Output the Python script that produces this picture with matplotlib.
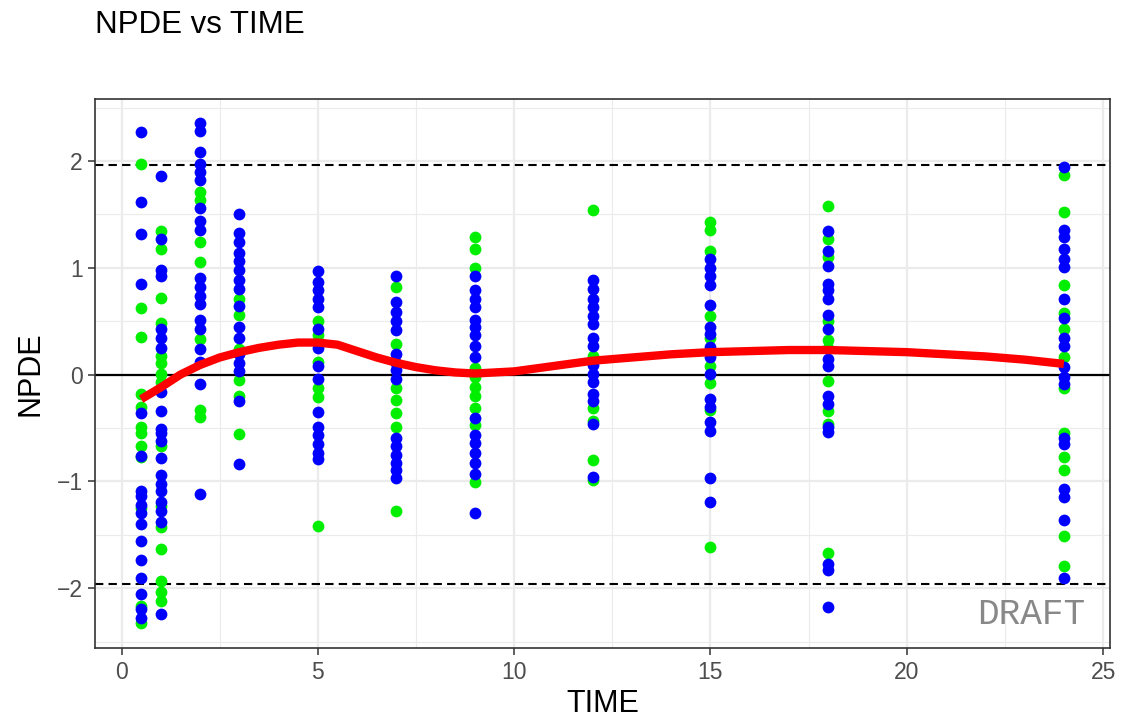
import numpy as np
import matplotlib
matplotlib.use("Agg")
import matplotlib.pyplot as plt

plt.rcParams['font.family'] = ['Liberation Sans', 'DejaVu Sans']

# NPDE values per sampling time, green group and blue group
times = [0.5, 1, 2, 3, 5, 7, 9, 12, 15, 18, 24]

green = {
    0.5: [1.97, 0.62, 0.35, -0.18, -0.30, -0.49, -0.55, -0.67, -0.77, -1.25, -2.17, -2.33],
    1: [1.34, 1.18, 0.72, 0.48, 0.17, 0.11, 0.01, -0.07, -0.67, -1.23, -1.43, -1.63, -1.93, -2.04, -2.12],
    2: [1.71, 1.63, 1.24, 1.05, 0.33, -0.33, -0.40],
    3: [0.71, 0.56, 0.24, -0.05, -0.20, -0.56],
    5: [0.50, 0.37, 0.12, -0.13, -0.21, -1.42],
    7: [0.82, 0.29, -0.13, -0.24, -0.36, -0.49, -1.28],
    9: [1.29, 1.18, 1.00, 0.06, -0.02, -0.12, -0.20, -0.31, -0.47, -1.01],
    12: [1.54, 0.17, -0.31, -0.43, -0.80, -0.99],
    15: [1.43, 1.35, 1.16, 0.55, 0.34, 0.08, -0.08, -0.33, -1.61],
    18: [1.58, 1.27, 1.10, 0.50, 0.32, 0.25, -0.06, -0.34, -0.46, -1.67],
    24: [1.87, 1.52, 0.84, 0.58, 0.43, 0.16, -0.13, -0.55, -0.77, -0.89, -1.51, -1.79],
}

blue = {
    0.5: [2.27, 1.62, 1.32, 0.85, -0.36, -0.76, -1.09, -1.14, -1.22, -1.30, -1.40, -1.56, -1.74, -1.90, -2.05, -2.19, -2.28],
    1: [1.86, 1.27, 0.98, 0.92, 0.43, 0.34, 0.25, -0.16, -0.34, -0.51, -0.55, -0.62, -0.78, -0.94, -1.02, -1.09, -1.19, -1.28, -1.38, -2.24],
    2: [2.36, 2.28, 2.08, 1.97, 1.90, 1.82, 1.56, 1.44, 1.35, 0.90, 0.82, 0.74, 0.66, 0.51, 0.43, 0.24, 0.12, -0.09, -1.12],
    3: [1.50, 1.33, 1.24, 1.14, 1.06, 0.98, 0.89, 0.80, 0.64, 0.45, 0.34, 0.19, 0.11, 0.03, -0.25, -0.84],
    5: [0.97, 0.87, 0.79, 0.71, 0.63, 0.43, 0.25, 0.08, -0.04, -0.35, -0.49, -0.57, -0.65, -0.73, -0.79],
    7: [0.92, 0.68, 0.59, 0.50, 0.42, 0.19, 0.11, 0.04, -0.04, -0.59, -0.67, -0.75, -0.83, -0.89, -0.97],
    9: [0.92, 0.79, 0.71, 0.63, 0.51, 0.45, 0.37, 0.27, 0.16, -0.41, -0.57, -0.64, -0.73, -0.83, -0.93, -1.30],
    12: [0.89, 0.80, 0.71, 0.63, 0.55, 0.47, 0.34, 0.27, 0.09, 0.01, -0.07, -0.18, -0.25, -0.46, -0.96],
    15: [1.08, 1.00, 0.92, 0.84, 0.65, 0.45, 0.38, 0.26, 0.16, 0.01, -0.23, -0.30, -0.44, -0.53, -0.97, -1.19],
    18: [1.34, 1.16, 1.02, 0.85, 0.79, 0.71, 0.56, 0.43, 0.15, 0.08, -0.20, -0.28, -0.49, -0.54, -1.77, -1.83, -2.18],
    24: [1.94, 1.35, 1.29, 1.18, 1.08, 1.01, 0.71, 0.53, 0.34, 0.27, 0.07, -0.02, -0.09, -0.59, -0.65, -1.07, -1.15, -1.36, -1.90],
}

# smooth trend
trend_t = [0.5, 1, 1.5, 2, 2.5, 3, 3.5, 4, 4.5, 5, 5.5, 6, 6.5, 7, 7.5, 8, 8.5, 9,
           10, 11, 12, 13, 14, 15, 16, 17, 18, 19, 20, 21, 22, 23, 24]
trend_y = [-0.23, -0.12, 0.0, 0.09, 0.16, 0.21, 0.25, 0.28, 0.30, 0.30, 0.28, 0.22, 0.16, 0.11,
           0.07, 0.04, 0.02, 0.01, 0.03, 0.08, 0.13, 0.16, 0.19, 0.21, 0.22, 0.23, 0.23, 0.22,
           0.21, 0.19, 0.17, 0.14, 0.10]

fig = plt.figure(figsize=(11.22, 7.19), dpi=100)
ax = fig.add_axes([0.0847, 0.0987, 0.9046, 0.7636])

ax.set_xlim(-0.675, 25.175)
ax.set_ylim(-2.56, 2.58)

ax.set_xticks([0, 5, 10, 15, 20, 25])
ax.set_xticks([2.5, 7.5, 12.5, 17.5, 22.5], minor=True)
ax.set_yticks([-2, -1, 0, 1, 2])
ax.set_yticks([-2.5, -1.5, -0.5, 0.5, 1.5, 2.5], minor=True)
ax.grid(True, which='major', color='#EBEBEB', lw=1.6, zorder=0)
ax.grid(True, which='minor', color='#EBEBEB', lw=0.8, zorder=0)
ax.tick_params(which='minor', length=0)
ax.tick_params(which='major', length=5, width=1.1, color='#333333', labelsize=16.5,
               labelcolor='#4D4D4D', pad=4)
for s in ax.spines.values():
    s.set_color('#333333')
    s.set_linewidth(1.2)

ax.axhline(0, color='black', lw=1.6, zorder=2)
ax.axhline(1.96, color='black', lw=1.5, ls=(0, (4, 2.5)), zorder=2)
ax.axhline(-1.96, color='black', lw=1.5, ls=(0, (4, 2.5)), zorder=2)

for t in times:
    ax.scatter([t] * len(green[t]), green[t], s=72, color='#00EE00', lw=0, zorder=3)
for t in times:
    ax.scatter([t] * len(blue[t]), blue[t], s=72, color='#0000FF', lw=0, zorder=4)

ax.plot(trend_t, trend_y, color='#FF0000', lw=6, solid_capstyle='butt', zorder=5)

ax.text(0.9755, 0.043, 'DRAFT', transform=ax.transAxes, ha='right', va='baseline',
        family='Liberation Mono', fontsize=26, color='#888888')

ax.set_xlabel('TIME', fontsize=22, labelpad=4)
ax.set_ylabel('NPDE', fontsize=22, labelpad=8)
fig.text(0.0847, 1 - 33 / 719, 'NPDE vs TIME', fontsize=22.5, ha='left', va='baseline')

fig.savefig('out.png', dpi=100)
